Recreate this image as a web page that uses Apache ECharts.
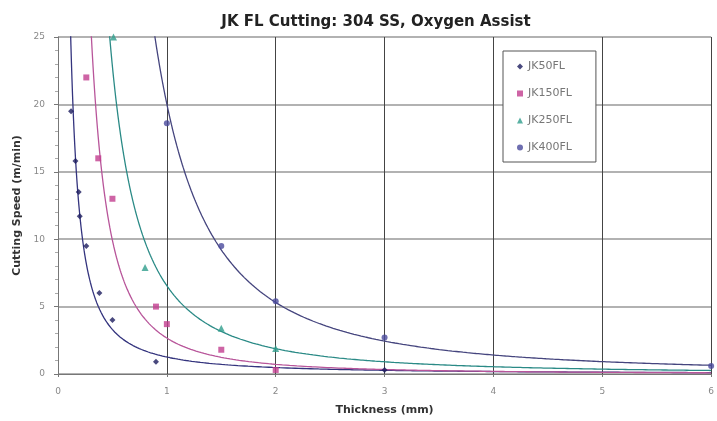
<!DOCTYPE html>
<html>
<head>
<meta charset="utf-8">
<script src="https://cdn.jsdelivr.net/npm/echarts@6/dist/echarts.min.js"></script>
<style>
    html, body {margin: 0; padding: 0; background: #fff;}
    #main {width: 717px; height: 421px;}
</style>
</head>
<body>
<div id="main"></div>
<script>
// 数据 (thickness mm, speed m/min)
const seriesNames = ['JK50FL', 'JK150FL', 'JK250FL', 'JK400FL'];
const jk50 = [[0.12, 19.5], [0.16, 15.8], [0.19, 13.5], [0.2, 11.7], [0.26, 9.5], [0.38, 6], [0.5, 4], [0.9, 0.9], [3, 0.3]];
const jk150 = [[0.26, 22], [0.37, 16], [0.5, 13], [0.9, 5], [1, 3.7], [1.5, 1.8], [2, 0.3]];
const jk250 = [[0.51, 25], [0.8, 7.9], [1.5, 3.4], [2, 1.9]];
const jk400 = [[1, 18.6], [1.5, 9.5], [2, 5.4], [3, 2.7], [6, 0.6]];
const xTicks = [0, 1, 2, 3, 4, 5, 6];
const yTicks = [0, 5, 10, 15, 20, 25];

const markerColors = ['#1c1c5e', '#c23d8e', '#2f9e8c', '#4a4a9c'];
const lineColors = ['#34347e', '#b8559a', '#2a8a86', '#45457e'];
const symbols = ['diamond', 'rect', 'triangle', 'circle'];

/**
 * 幂函数拟合 y = a * x^b (像 Excel 的趋势线)
 */
const powerFit = (pts) => {
    const n = pts.length;
    let sx = 0, sy = 0, sxx = 0, sxy = 0;
    pts.forEach(p => {
        const lx = Math.log(p[0]), ly = Math.log(p[1]);
        sx += lx; sy += ly; sxx += lx * lx; sxy += lx * ly;
    });
    const b = (n * sxy - sx * sy) / (n * sxx - sx * sx);
    const a = Math.exp((sy - b * sx) / n);
    return {a, b};
};

const trendLine = (pts) => {
    const {a, b} = powerFit(pts);
    const out = [];
    // 从 y≈40 开始画到 x=6
    const xStart = Math.pow(40 / a, 1 / b);
    for (let i = 0; i <= 400; i++) {
        const x = xStart + (6 - xStart) * Math.pow(i / 400, 2);
        out.push([x, a * Math.pow(x, b)]);
    }
    return out;
};

const allData = [jk50, jk150, jk250, jk400];
const series = [];
allData.forEach((d, i) => {
    series.push({
        name: seriesNames[i] + ' fit',
        type: 'line',
        data: trendLine(d),
        showSymbol: false,
        clip: true,
        silent: true,
        lineStyle: {color: lineColors[i], width: 1.3},
        z: 2
    });
});
allData.forEach((d, i) => {
    series.push({
        name: seriesNames[i],
        type: 'scatter',
        data: d,
        symbol: symbols[i],
        symbolSize: i === 2 ? 7 : 6,
        itemStyle: {color: markerColors[i]},
        clip: false,
        z: 3
    });
});

const myChart = echarts.init(document.getElementById('main'));
myChart.setOption({
    animation: false,
    backgroundColor: '#fff',
    textStyle: {fontFamily: 'DejaVu Sans, Verdana, sans-serif'},
    title: {
        text: 'JK FL Cutting: 304 SS, Oxygen Assist',
        left: 371,
        top: 10,
        textAlign: 'center',
        textStyle: {fontSize: 15, fontWeight: 'bold', color: '#222'}
    },
    legend: {
        data: seriesNames.map((n, i) => ({name: n, icon: symbols[i]})),
        orient: 'vertical',
        left: 503,
        top: 51,
        width: 97,
        padding: [10, 24, 9, 14],
        itemWidth: 6,
        itemHeight: 6,
        itemGap: 16,
        borderColor: '#555',
        borderWidth: 1,
        backgroundColor: '#fff',
        textStyle: {fontSize: 11, color: '#777'}
    },
    grid: {left: 58, right: 1, top: 37, bottom: 45},
    xAxis: {
        type: 'value',
        min: 0,
        max: 6,
        interval: 1,
        name: 'Thickness (mm)',
        nameLocation: 'middle',
        nameGap: 31,
        nameTextStyle: {fontSize: 11, fontWeight: 'bold', color: '#333'},
        axisLine: {lineStyle: {color: '#777'}},
        axisTick: {show: true, length: 3, lineStyle: {color: '#777'}},
        axisLabel: {fontSize: 9, color: '#888', margin: 13, formatter: v => xTicks.includes(v) ? String(v) : ''},
        splitLine: {show: true, lineStyle: {color: '#444', width: 1}}
    },
    yAxis: {
        type: 'value',
        min: 0,
        max: 25,
        interval: 5,
        name: 'Cutting Speed (m/min)',
        nameLocation: 'middle',
        nameGap: 34,
        nameTextStyle: {fontSize: 11, fontWeight: 'bold', color: '#333'},
        axisLine: {show: true, lineStyle: {color: '#777'}},
        axisTick: {show: true, length: 4, lineStyle: {color: '#777'}},
        minorTick: {show: true, splitNumber: 5, length: 3, lineStyle: {color: '#aaa'}},
        axisLabel: {fontSize: 9, color: '#888', margin: 13, formatter: v => yTicks.includes(v) ? String(v) : ''},
        splitLine: {show: true, lineStyle: {color: '#999', width: 1.6}}
    },
    series: series
});
</script>
</body>
</html>
